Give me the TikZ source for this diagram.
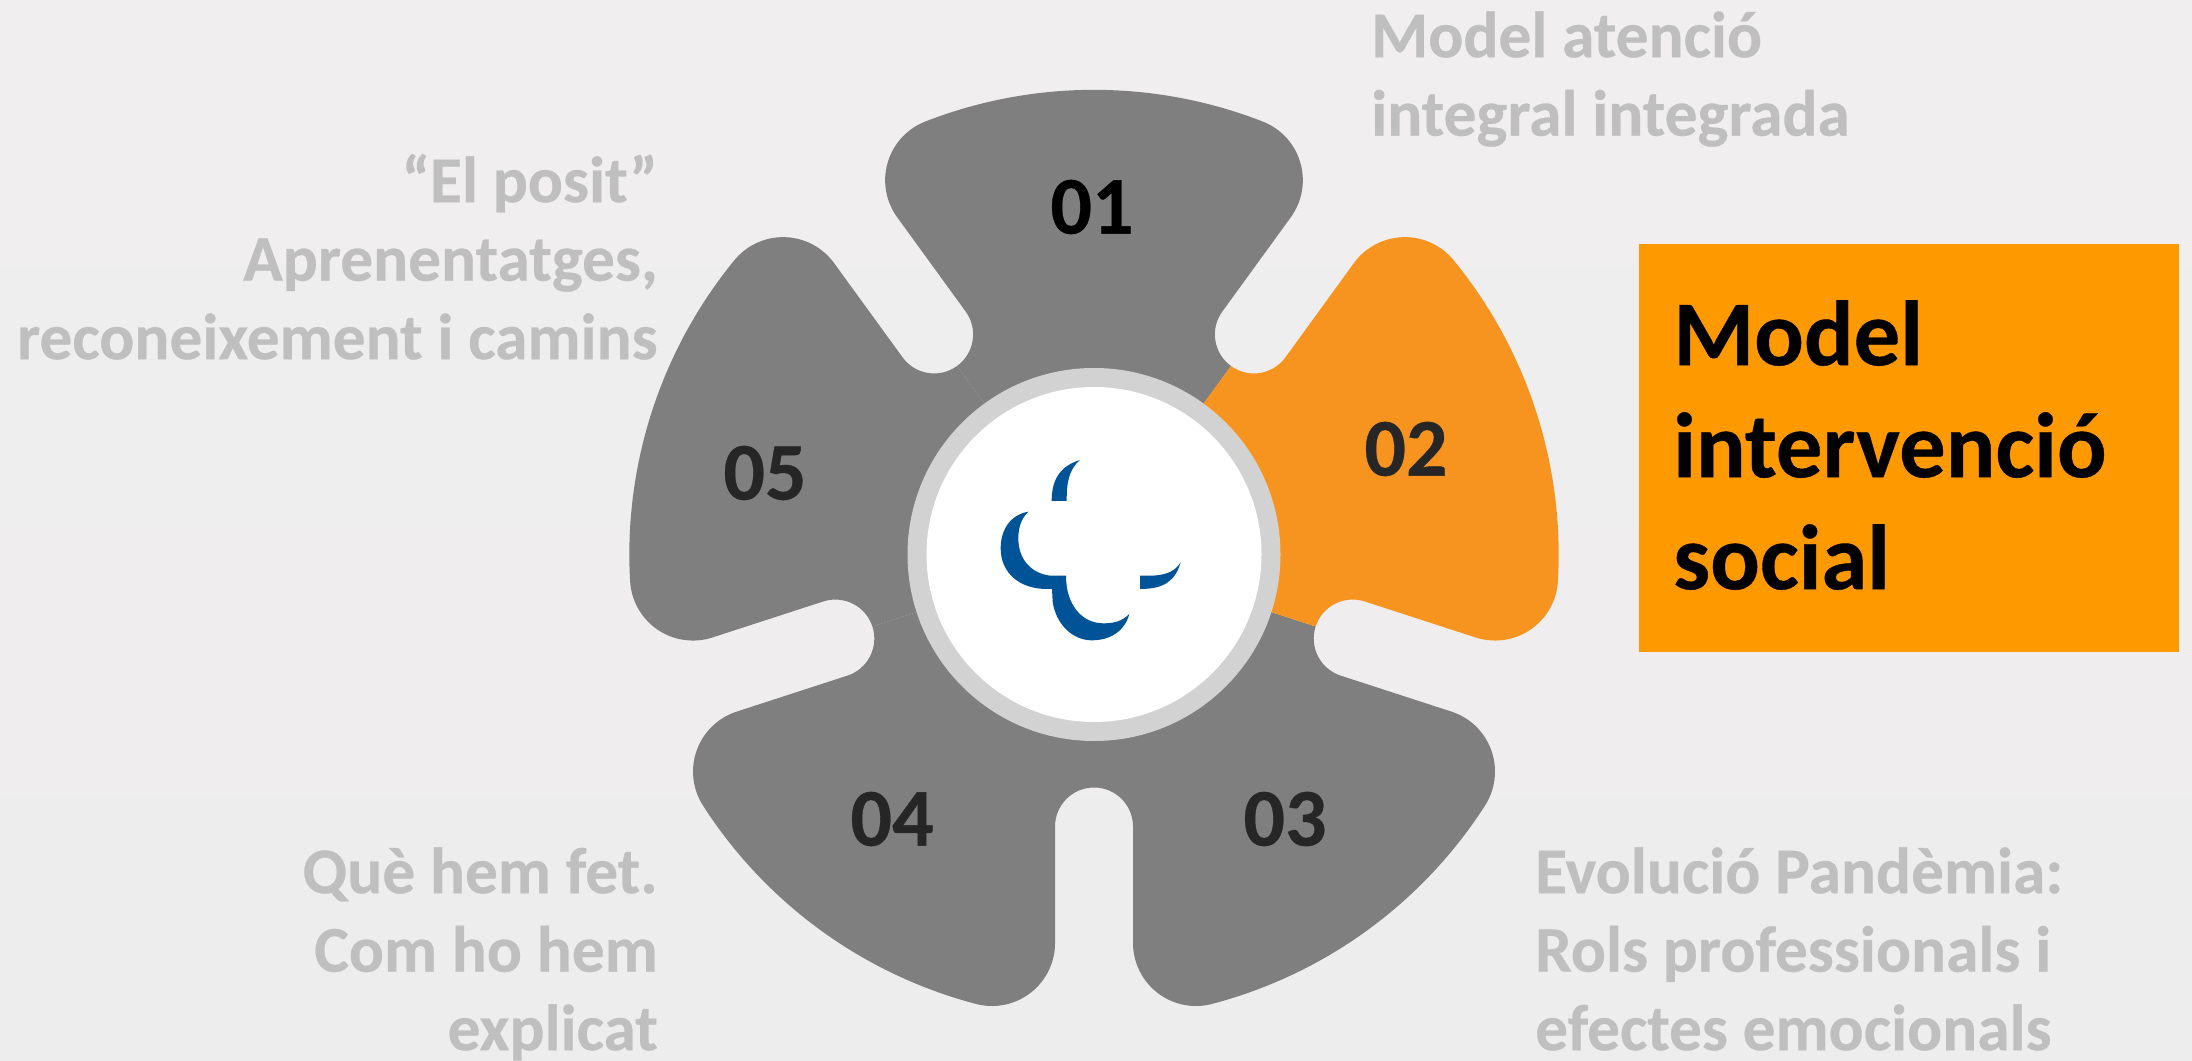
\documentclass[tikz,border=0pt]{standalone}
\usepackage{fontspec}
\setmainfont[BoldFeatures={FakeBold=0.4}]{Carlito}
\definecolor{bgtop}{HTML}{F0EEEF}
\definecolor{bgbot}{HTML}{EEEDEE}
\definecolor{petalgray}{HTML}{7F7F7F}
\definecolor{petalon}{HTML}{F79420}
\definecolor{ringc}{HTML}{D2D2D2}
\definecolor{logoc}{HTML}{005396}
\definecolor{boxc}{HTML}{FF9900}
\definecolor{faded}{HTML}{BFBFBF}
\definecolor{numc}{HTML}{262626}
\newcommand{\petalshape}[2]{%
  \pgfmathsetmacro{\sa}{#1}\pgfmathsetmacro{\sb}{#1+72}%
  \fill[#2] (0,0) -- (\sa:233) arc[start angle=\sa+180,end angle=\sa+90,radius=39pt]
  -- ++(\sa:116.5) arc[start angle=\sa-90,end angle=\sa+14.71,radius=63pt]
  arc[start angle=\sa+14.71,end angle=\sb-14.71,radius=464.7pt]
  arc[start angle=\sb-14.71,end angle=\sb+90,radius=63pt]
  -- ++(\sb+180:116.5) arc[start angle=\sb-90,end angle=\sb-180,radius=39pt] -- cycle;}
\newcommand{\firstline}{\rule{0pt}{60pt}}
\tikzset{
  lab/.style={font=\bfseries\fontsize{65.3}{78.5}\selectfont,text=faded,inner sep=0pt},
  num/.style={font=\bfseries\fontsize{82}{82}\selectfont,text=numc,inner sep=0pt},
}
\begin{document}
\begin{tikzpicture}[x=1pt,y=1pt]
\useasboundingbox (0,0) rectangle (2192,1060);
\shade[top color=bgtop,bottom color=bgbot] (0,0) rectangle (2192,1060);
\begin{scope}[shift={(1094,505.5)}]
  \foreach \s in {54,126,198,270} {\petalshape{\s}{petalgray}}
  \petalshape{-18}{petalon}
  \fill[ringc] (0,0) circle[radius=186.5pt];
  \fill[white] (0,0) circle[radius=167.5pt];
\end{scope}
\begin{scope}[shift={(850pt,710pt)},x=0.33333pt,y=-0.33333pt]
  \fill[logoc] (690,330) .. controls (625,350) and (605,395) .. (605,453) -- (650,453) .. controls (650,400) and (655,360) .. (690,330) -- cycle;
  \fill[logoc] (535,485) .. controls (480,495) and (452,540) .. (452,595) .. controls (452,670) and (510,717) .. (590,717) -- (606,717) -- (608,755) .. controls (618,825) and (670,871) .. (725,871) .. controls (785,871) and (825,840) .. (838,792) .. controls (815,815) and (790,820) .. (760,820) .. controls (700,820) and (648,770) .. (648,677) -- (600,677) .. controls (545,670) and (505,630) .. (505,565) .. controls (505,530) and (515,505) .. (535,485) -- cycle;
  \fill[logoc] (870,677) -- (900,677) .. controls (945,677) and (975,665) .. (992,637) .. controls (975,695) and (940,717) .. (870,717) -- cycle;
\end{scope}
\node[num,text=black] (n1) at (1092,853) {01};
\node[num] (n2) at (1406,611) {02};
\node[num] (n3) at (1285,241) {03};
\node[num] (n4) at (892,241) {04};
\node[num] (n5) at (765,587) {05};
\node[lab,anchor=north west,align=left] (t1) at (1371,1063) {\firstline Model atenció\\integral integrada};
\node[lab,anchor=north east,align=right] (t5) at (658,918) {\firstline “El posit”\\Aprenentatges,\\reconeixement i camins};
\node[lab,anchor=north east,align=right] (t4) at (658,227) {\firstline Què hem fet.\\Com ho hem\\explicat};
\node[lab,anchor=north west,align=left] (t3) at (1535,227) {\firstline Evolució Pandèmia:\\Rols professionals i\\efectes emocionals};
\fill[boxc] (1639,408) rectangle (2179,816);
\node[font=\bfseries\fontsize{92.6}{112}\selectfont,text=black,anchor=north west,align=left,inner sep=0pt] (t2) at (1673,775) {\rule{0pt}{80pt}Model\\intervenció\\social};
\end{tikzpicture}
\end{document}
